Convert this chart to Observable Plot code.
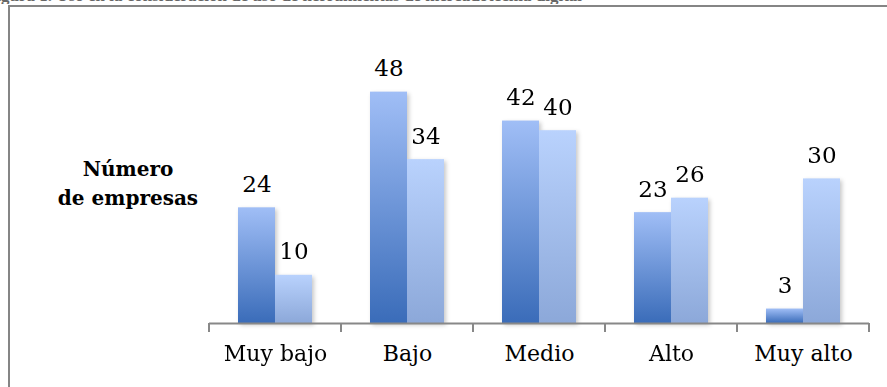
<!DOCTYPE html>
<html><head><meta charset="utf-8">
<script src="https://cdn.jsdelivr.net/npm/d3@7"></script>
<script src="https://cdn.jsdelivr.net/npm/@observablehq/plot@0.6"></script>
<style>
body{margin:0;background:#fff;}
#wrap{position:relative;width:887px;height:387px;overflow:hidden;background:#fff;}
#title{position:absolute;left:0;top:0;width:887px;height:4px;overflow:hidden;}
#title span{position:absolute;left:-14px;top:-14px;font:bold 17px "Liberation Serif";white-space:nowrap;color:#666}
#frame{position:absolute;left:8px;top:5px;width:900px;height:400px;border-left:2px solid #858585;border-top:2px solid #858585;}
#ylab{position:absolute;left:48px;width:160px;top:155px;text-align:center;font:bold 20px "DejaVu Serif";line-height:29px;color:#000}
#chart{position:absolute;left:0;top:0}
</style>
</head><body>
<div id="wrap">
  <div id="title"><span id="titletext"></span></div>
  <div id="frame"></div>
  <div id="chart"></div>
  <div id="ylab"></div>
</div>
<script>
const titleText = "Figura 1. Uso en la consideración de uso de herramientas de mercadotecnia digital";
const categories = ["Muy bajo", "Bajo", "Medio", "Alto", "Muy alto"];
const seriesNames = ["Serie 1", "Serie 2"];
const serie1 = [24, 48, 42, 23, 3];
const serie2 = [10, 34, 40, 26, 30];
const yTitle = ["Número", "de empresas"];

document.getElementById("titletext").textContent = titleText;
document.getElementById("ylab").innerHTML = yTitle.join("<br>");

const data = categories.flatMap((c, i) => [
  {cat: c, serie: seriesNames[0], value: serie1[i]},
  {cat: c, serie: seriesNames[1], value: serie2[i]}
]);

const chart = Plot.plot({
  width: 887, height: 387,
  marginLeft: 209, marginRight: 18, marginTop: 82, marginBottom: 64,
  fx: {domain: categories, padding: 0, label: null},
  x: {domain: seriesNames, paddingInner: 0, paddingOuter: 0.737, axis: null},
  y: {domain: [0, 50], axis: null},
  color: {domain: seriesNames, range: ["url(#g1)", "url(#g2)"]},
  marks: [
    Plot.barY(data, {fx: "cat", x: "serie", y: "value", fill: "serie"}),
    Plot.ruleY([0], {stroke: "#888", strokeWidth: 2}),
    Plot.text(data, {fx: "cat", x: "serie", y: "value", text: d => String(d.value),
      lineAnchor: "bottom", dy: -16, fontSize: 23, fontFamily: "DejaVu Serif", fill: "#000"}),
    Plot.axisFx({anchor: "bottom", tickSize: 0, tickPadding: 22, fontSize: 22,
      fontFamily: "DejaVu Serif", label: null, fill: "#000"})
  ]
});

const svg = d3.select(chart);
const defs = svg.insert("defs", ":first-child");
const grads = [["g1", "#a0bef6", "#3a6cb9"], ["g2", "#b9d2fd", "#8ca8d9"]];
for (const [id, top, bot] of grads) {
  const g = defs.append("linearGradient").attr("id", id)
    .attr("x1", 0).attr("y1", 0).attr("x2", 0).attr("y2", 1);
  g.append("stop").attr("offset", "0%").attr("stop-color", top);
  g.append("stop").attr("offset", "100%").attr("stop-color", bot);
}
svg.selectAll("g[aria-label='bar']").style("filter", "drop-shadow(2px 2px 2px rgba(0,0,0,0.22))");

// boundary ticks between categories, from the fx scale
const fx = chart.scale("fx");
const y = chart.scale("y");
const y0 = y.apply(0);
const bounds = categories.map(c => fx.apply(c)).concat([fx.apply(categories[categories.length - 1]) + fx.bandwidth]);
svg.append("g").selectAll("line").data(bounds).join("line")
  .attr("x1", d => d).attr("x2", d => d)
  .attr("y1", y0).attr("y2", y0 + 9)
  .attr("stroke", "#888").attr("stroke-width", 2);

document.getElementById("chart").append(chart);
</script>
</body></html>
